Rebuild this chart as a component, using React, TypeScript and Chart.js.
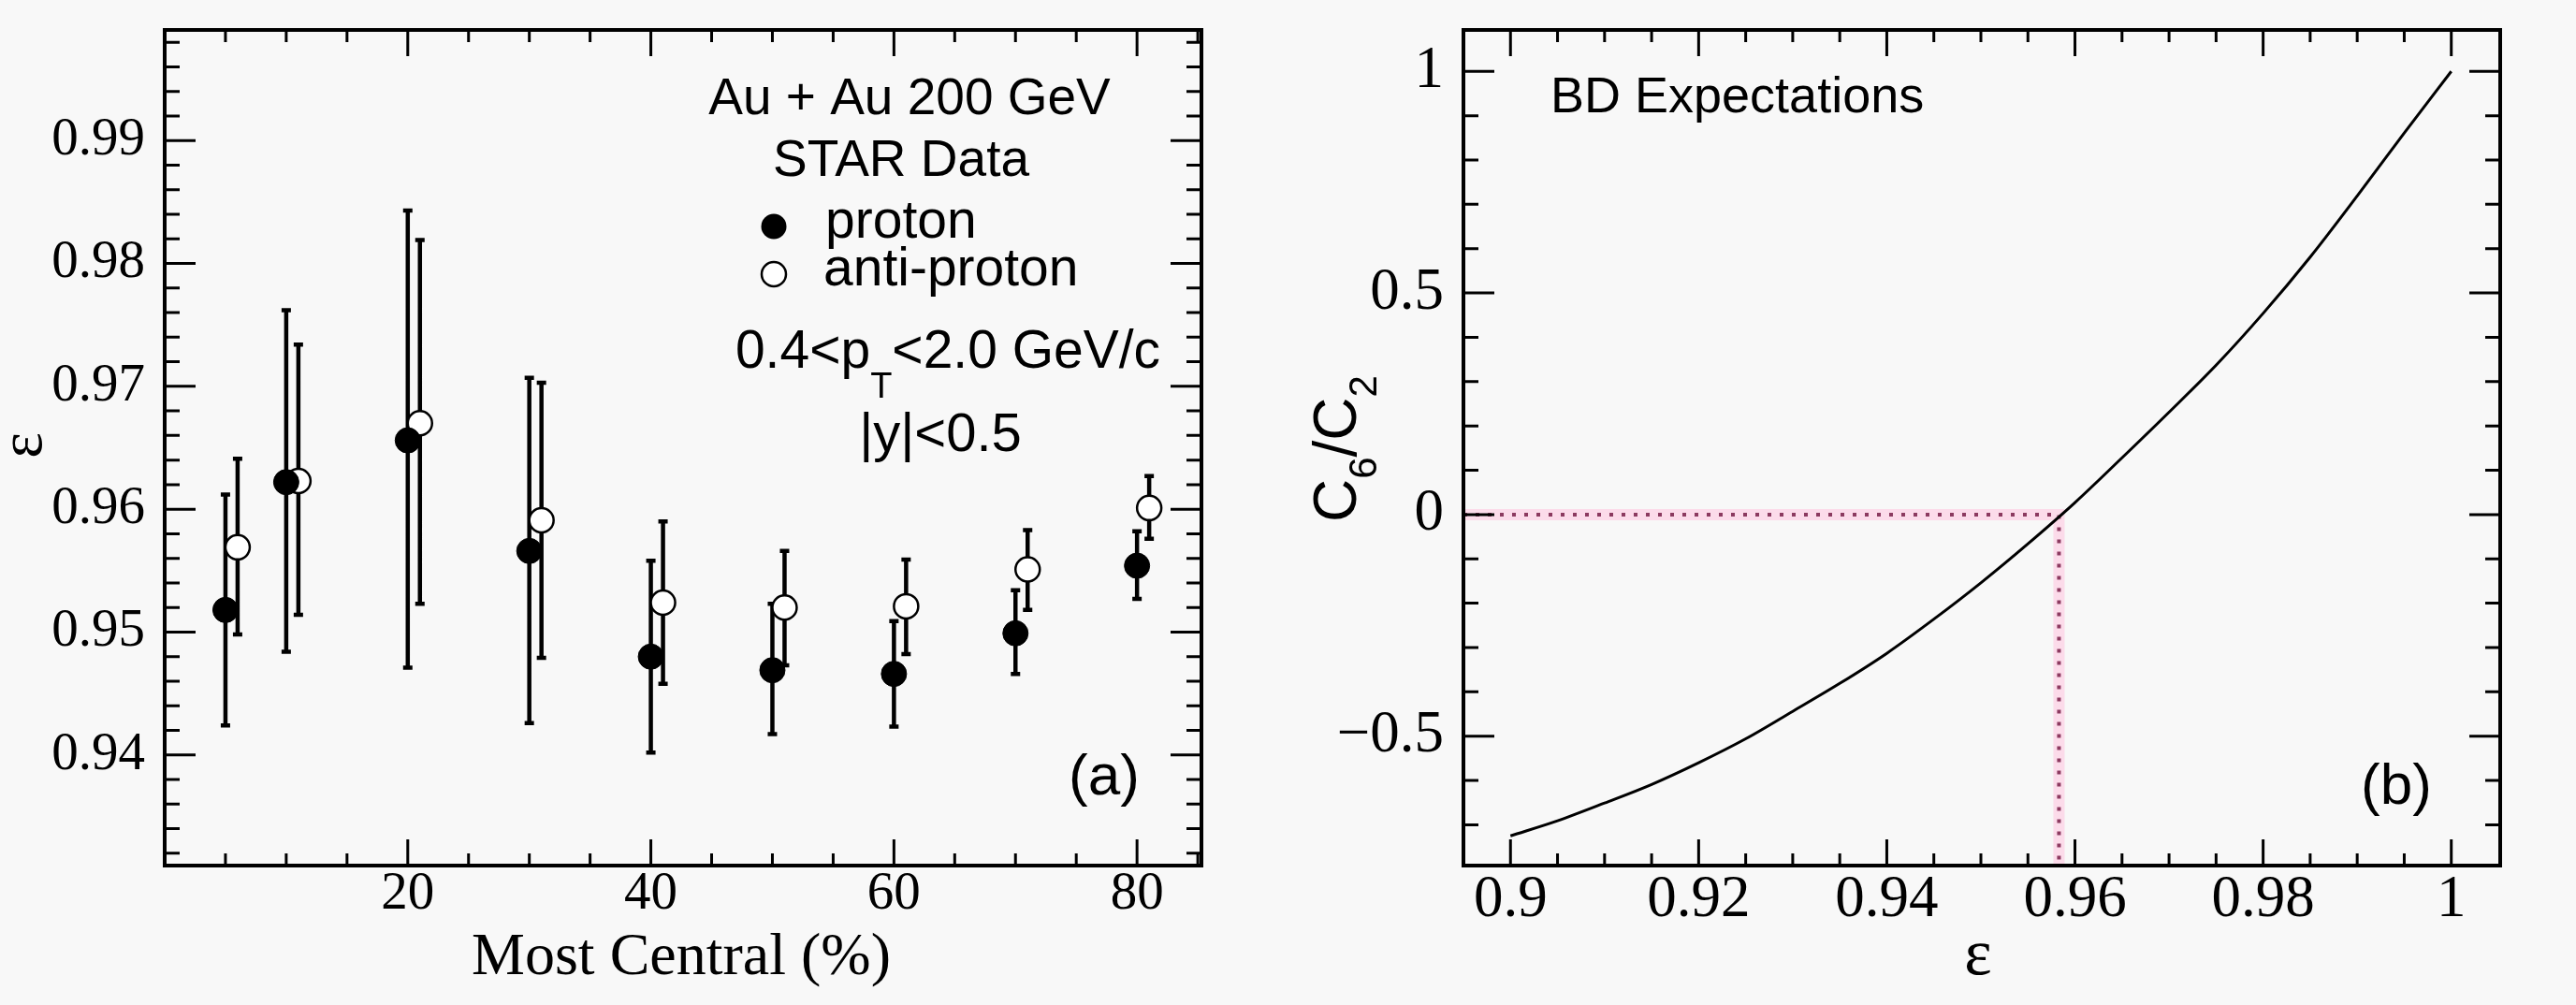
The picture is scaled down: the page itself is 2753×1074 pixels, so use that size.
import { useEffect, useRef } from "react";
import { Chart, registerables } from "chart.js";

Chart.register(...registerables);

// panel (a): STAR Au+Au 200 GeV, epsilon vs centrality
const centrality = [5, 10, 20, 30, 40, 50, 60, 70, 80];
const centralityAnti = [6, 11, 21, 31, 41, 51, 61, 71, 81];
const protonEps = [0.9518, 0.9622, 0.9656, 0.9566, 0.948, 0.9469, 0.9466, 0.9499, 0.9554];
const protonHi = [0.9612, 0.9762, 0.9843, 0.9707, 0.9558, 0.9523, 0.9509, 0.9534, 0.9582];
const protonLo = [0.9424, 0.9484, 0.9471, 0.9426, 0.9402, 0.9417, 0.9423, 0.9466, 0.9527];
const antiEps = [0.9569, 0.9623, 0.967, 0.9591, 0.9524, 0.952, 0.9521, 0.9551, 0.9601];
const antiHi = [0.9641, 0.9734, 0.9819, 0.9703, 0.959, 0.9566, 0.9559, 0.9583, 0.9627];
const antiLo = [0.9498, 0.9514, 0.9523, 0.9479, 0.9458, 0.9473, 0.9482, 0.9518, 0.9576];

const leftXTicks = [20, 40, 60, 80];
const leftXLabels = ["20", "40", "60", "80"];
const leftYTicks = [0.94, 0.95, 0.96, 0.97, 0.98, 0.99];
const leftYLabels = ["0.94", "0.95", "0.96", "0.97", "0.98", "0.99"];

// panel (b): BD expectation of C6/C2 vs epsilon
const epsGrid = [
  0.9, 0.905, 0.91, 0.915, 0.92, 0.925, 0.93, 0.935, 0.94, 0.945, 0.95,
  0.955, 0.96, 0.965, 0.97, 0.975, 0.98, 0.985, 0.99, 0.995, 1.0,
];
const c6c2 = [
  -0.725, -0.691, -0.651, -0.609, -0.56, -0.506, -0.444, -0.381, -0.313, -0.236, -0.154,
  -0.066, 0.027, 0.128, 0.231, 0.337, 0.454, 0.581, 0.719, 0.861, 1.0,
];
const zeroEps = 0.9583;

const rightXTicks = [0.9, 0.92, 0.94, 0.96, 0.98, 1.0];
const rightXLabels = ["0.9", "0.92", "0.94", "0.96", "0.98", "1"];
const rightYTicks = [-0.5, 0, 0.5, 1];
const rightYLabels = ["\u22120.5", "0", "0.5", "1"];

const SERIF = "'Liberation Serif', 'Times New Roman', serif";
const SANS = "'Liberation Sans', Arial, sans-serif";
const BG = "#f8f8f8";

type Part = { t: string; sub?: boolean };

function drawRich(
  ctx: CanvasRenderingContext2D,
  parts: Part[],
  x: number,
  y: number,
  size: number,
  subSize: number,
  drop: number,
  align: "left" | "center",
) {
  const font = (s: number) => `${s}px ${SANS}`;
  const widths = parts.map((p) => {
    ctx.font = font(p.sub ? subSize : size);
    return ctx.measureText(p.t).width;
  });
  const total = widths.reduce((a, b) => a + b, 0);
  let cx = align === "center" ? x - total / 2 : x;
  ctx.textAlign = "left";
  ctx.textBaseline = "alphabetic";
  parts.forEach((p, i) => {
    ctx.font = font(p.sub ? subSize : size);
    ctx.fillText(p.t, cx, p.sub ? y + drop : y);
    cx += widths[i];
  });
}

function minorTicks(scale: any, majors: number[], step: number) {
  const out: { p: number; major: boolean }[] = majors.map((v) => ({
    p: scale.getPixelForValue(v),
    major: true,
  }));
  const n0 = Math.ceil(scale.min / step - 1e-6);
  const n1 = Math.floor(scale.max / step + 1e-6);
  for (let i = n0; i <= n1; i++) {
    const v = i * step;
    if (majors.some((m) => Math.abs(m - v) < step / 10)) continue;
    out.push({ p: scale.getPixelForValue(v), major: false });
  }
  return out;
}

// ROOT style frame: thick box with inward ticks on all four sides
const rootFrame = {
  id: "rootFrame",
  afterDraw(chart: any, _args: any, opts: any) {
    const { ctx, chartArea: a, scales } = chart;
    ctx.save();
    ctx.strokeStyle = "#000";
    ctx.lineWidth = 3;
    ctx.beginPath();
    for (const t of minorTicks(scales.x, opts.xMajors, opts.xStep)) {
      if (t.p < a.left + 3 || t.p > a.right - 3) continue;
      const len = t.major ? 28 : 13;
      ctx.moveTo(t.p, a.bottom);
      ctx.lineTo(t.p, a.bottom - len);
      ctx.moveTo(t.p, a.top);
      ctx.lineTo(t.p, a.top + len);
    }
    for (const t of minorTicks(scales.y, opts.yMajors, opts.yStep)) {
      if (t.p < a.top + 3 || t.p > a.bottom - 3) continue;
      const len = t.major ? 33 : 16;
      ctx.moveTo(a.left, t.p);
      ctx.lineTo(a.left + len, t.p);
      ctx.moveTo(a.right, t.p);
      ctx.lineTo(a.right - len, t.p);
    }
    ctx.stroke();
    ctx.lineWidth = 4;
    ctx.strokeRect(a.left, a.top, a.right - a.left, a.bottom - a.top);
    ctx.restore();
  },
};

const errorBars = {
  id: "errorBars",
  beforeDatasetsDraw(chart: any) {
    const { ctx, scales } = chart;
    const sets = [
      { xs: centrality, lo: protonLo, hi: protonHi },
      { xs: centralityAnti, lo: antiLo, hi: antiHi },
    ];
    ctx.save();
    ctx.strokeStyle = "#000";
    ctx.lineWidth = 4.5;
    ctx.beginPath();
    sets.forEach((s) =>
      s.xs.forEach((xv, i) => {
        const px = scales.x.getPixelForValue(xv);
        const top = scales.y.getPixelForValue(s.hi[i]);
        const bot = scales.y.getPixelForValue(s.lo[i]);
        ctx.moveTo(px, top);
        ctx.lineTo(px, bot);
        ctx.moveTo(px - 5, top);
        ctx.lineTo(px + 5, top);
        ctx.moveTo(px - 5, bot);
        ctx.lineTo(px + 5, bot);
      }),
    );
    ctx.stroke();
    ctx.restore();
  },
};

const leftNotes = {
  id: "leftNotes",
  afterDraw(chart: any) {
    const ctx: CanvasRenderingContext2D = chart.ctx;
    ctx.save();
    ctx.fillStyle = "#000";
    drawRich(ctx, [{ t: "Au + Au 200 GeV" }], 972, 122, 55, 38, 0, "center");
    drawRich(ctx, [{ t: "STAR Data" }], 963, 188, 55, 38, 0, "center");
    drawRich(ctx, [{ t: "proton" }], 882, 254, 57, 38, 0, "left");
    drawRich(ctx, [{ t: "anti-proton" }], 880, 305, 57, 38, 0, "left");
    drawRich(
      ctx,
      [{ t: "0.4<p" }, { t: "T", sub: true }, { t: "<2.0 GeV/c" }],
      1013,
      393,
      57,
      38,
      32,
      "center",
    );
    drawRich(ctx, [{ t: "|y|<0.5" }], 1005, 482, 58, 38, 0, "center");
    drawRich(ctx, [{ t: "(a)" }], 1180, 849, 62, 38, 0, "center");

    // legend markers
    ctx.beginPath();
    ctx.arc(827, 242, 13.5, 0, Math.PI * 2);
    ctx.fill();
    ctx.beginPath();
    ctx.arc(827, 293, 13, 0, Math.PI * 2);
    ctx.fillStyle = "#fff";
    ctx.fill();
    ctx.lineWidth = 2.5;
    ctx.strokeStyle = "#000";
    ctx.stroke();

    // axis titles
    ctx.fillStyle = "#000";
    ctx.font = `64px ${SERIF}`;
    ctx.textAlign = "center";
    ctx.textBaseline = "alphabetic";
    ctx.fillText("Most Central (%)", 728, 1041);
    ctx.translate(44, 476);
    ctx.rotate(-Math.PI / 2);
    ctx.font = `66px ${SERIF}`;
    ctx.fillText("\u03b5", 0, 0);
    ctx.restore();
  },
};

const rightNotes = {
  id: "rightNotes",
  afterDraw(chart: any) {
    const ctx: CanvasRenderingContext2D = chart.ctx;
    ctx.save();
    ctx.fillStyle = "#000";
    drawRich(ctx, [{ t: "BD Expectations" }], 281, 120, 54, 38, 0, "left");
    drawRich(ctx, [{ t: "(b)" }], 1185, 859, 62, 38, 0, "center");

    ctx.font = `70px ${SERIF}`;
    ctx.textAlign = "center";
    ctx.textBaseline = "alphabetic";
    ctx.fillText("\u03b5", 738, 1041);

    ctx.save();
    ctx.translate(73, 558);
    ctx.rotate(-Math.PI / 2);
    drawRich(
      ctx,
      [{ t: "C" }, { t: "6", sub: true }, { t: "/C" }, { t: "2", sub: true }],
      0,
      0,
      64,
      42,
      22,
      "left",
    );
    ctx.restore();
    ctx.restore();
  },
};

function tickFont(size: number) {
  return { family: SERIF, size, lineHeight: 1 };
}

const noGrid = { display: false, drawTicks: false };

export default function App() {
  const leftRef = useRef<HTMLCanvasElement>(null);
  const rightRef = useRef<HTMLCanvasElement>(null);

  useEffect(() => {
    if (!leftRef.current || !rightRef.current) return;
    document.body.style.margin = "0";
    document.body.style.background = BG;

    const left = new Chart(leftRef.current, {
      type: "scatter",
      data: {
        datasets: [
          {
            label: "proton",
            data: centrality.map((x, i) => ({ x, y: protonEps[i] })),
            pointRadius: 13.5,
            pointBackgroundColor: "#000",
            pointBorderColor: "#000",
            pointBorderWidth: 1,
          },
          {
            label: "anti-proton",
            data: centralityAnti.map((x, i) => ({ x, y: antiEps[i] })),
            pointRadius: 13,
            pointBackgroundColor: "#fff",
            pointBorderColor: "#000",
            pointBorderWidth: 2.5,
          },
        ],
      },
      options: {
        responsive: false,
        animation: false,
        events: [],
        layout: { padding: { left: 0, right: 92, top: 32, bottom: 0 } },
        plugins: {
          legend: { display: false },
          tooltip: { enabled: false },
          rootFrame: { xMajors: leftXTicks, xStep: 5, yMajors: leftYTicks, yStep: 0.002 },
        } as any,
        scales: {
          x: {
            type: "linear",
            min: 0,
            max: 85.3,
            grid: noGrid,
            border: { display: false },
            ticks: {
              color: "#000",
              font: tickFont(57),
              padding: 3,
              maxRotation: 0,
              autoSkip: false,
              callback: (_v, i) => leftXLabels[i],
            },
            afterBuildTicks: (s: any) => {
              s.ticks = leftXTicks.map((value) => ({ value }));
            },
            afterFit: (s: any) => {
              s.height = 149;
              s.paddingLeft = 0;
              s.paddingRight = 0;
            },
          },
          y: {
            type: "linear",
            min: 0.931,
            max: 0.999,
            grid: noGrid,
            border: { display: false },
            ticks: {
              color: "#000",
              font: tickFont(57),
              padding: 21,
              autoSkip: false,
              callback: (_v, i) => leftYLabels[i],
            },
            afterBuildTicks: (s: any) => {
              s.ticks = leftYTicks.map((value) => ({ value }));
            },
            afterFit: (s: any) => {
              s.width = 176;
              s.paddingTop = 0;
              s.paddingBottom = 0;
            },
          },
        },
      },
      plugins: [errorBars, rootFrame, leftNotes],
    });

    const right = new Chart(rightRef.current, {
      type: "scatter",
      data: {
        datasets: [
          {
            label: "BD",
            data: epsGrid.map((x, i) => ({ x, y: c6c2[i] })),
            showLine: true,
            borderColor: "#000",
            borderWidth: 3,
            pointRadius: 0,
            cubicInterpolationMode: "monotone",
          },
          {
            label: "zero-dots",
            data: [
              { x: 0.895, y: 0 },
              { x: zeroEps, y: 0 },
              { x: zeroEps, y: -0.792 },
            ],
            showLine: true,
            borderColor: "#8c3a60",
            borderWidth: 4,
            borderDash: [4, 9],
            pointRadius: 0,
          },
          {
            label: "zero-band",
            data: [
              { x: 0.895, y: 0 },
              { x: zeroEps, y: 0 },
              { x: zeroEps, y: -0.792 },
            ],
            showLine: true,
            borderColor: "rgba(255,190,220,0.5)",
            borderWidth: 12,
            pointRadius: 0,
          },
        ],
      },
      options: {
        responsive: false,
        animation: false,
        events: [],
        layout: { padding: { left: 0, right: 81, top: 32, bottom: 0 } },
        plugins: {
          legend: { display: false },
          tooltip: { enabled: false },
          rootFrame: { xMajors: rightXTicks, xStep: 0.005, yMajors: rightYTicks, yStep: 0.1 },
        } as any,
        scales: {
          x: {
            type: "linear",
            min: 0.895,
            max: 1.0052,
            grid: noGrid,
            border: { display: false },
            ticks: {
              color: "#000",
              font: tickFont(63),
              padding: 6,
              maxRotation: 0,
              autoSkip: false,
              callback: (_v, i) => rightXLabels[i],
            },
            afterBuildTicks: (s: any) => {
              s.ticks = rightXTicks.map((value) => ({ value }));
            },
            afterFit: (s: any) => {
              s.height = 149;
              s.paddingLeft = 0;
              s.paddingRight = 0;
            },
          },
          y: {
            type: "linear",
            min: -0.792,
            max: 1.0935,
            grid: noGrid,
            border: { display: false },
            ticks: {
              color: "#000",
              font: tickFont(63),
              padding: 21,
              autoSkip: false,
              callback: (_v, i) => rightYLabels[i],
            },
            afterBuildTicks: (s: any) => {
              s.ticks = rightYTicks.map((value) => ({ value }));
            },
            afterFit: (s: any) => {
              s.width = 188;
              s.paddingTop = 0;
              s.paddingBottom = 0;
            },
          },
        },
      },
      plugins: [rootFrame, rightNotes],
    });

    return () => {
      left.destroy();
      right.destroy();
    };
  }, []);

  return (
    <div style={{ position: "absolute", left: 0, top: 0, width: 2753, height: 1074, background: BG }}>
      <canvas
        ref={leftRef}
        width={1376}
        height={1074}
        style={{ position: "absolute", left: 0, top: 0, width: 1376, height: 1074 }}
      />
      <canvas
        ref={rightRef}
        width={1377}
        height={1074}
        style={{ position: "absolute", left: 1376, top: 0, width: 1377, height: 1074 }}
      />
    </div>
  );
}
